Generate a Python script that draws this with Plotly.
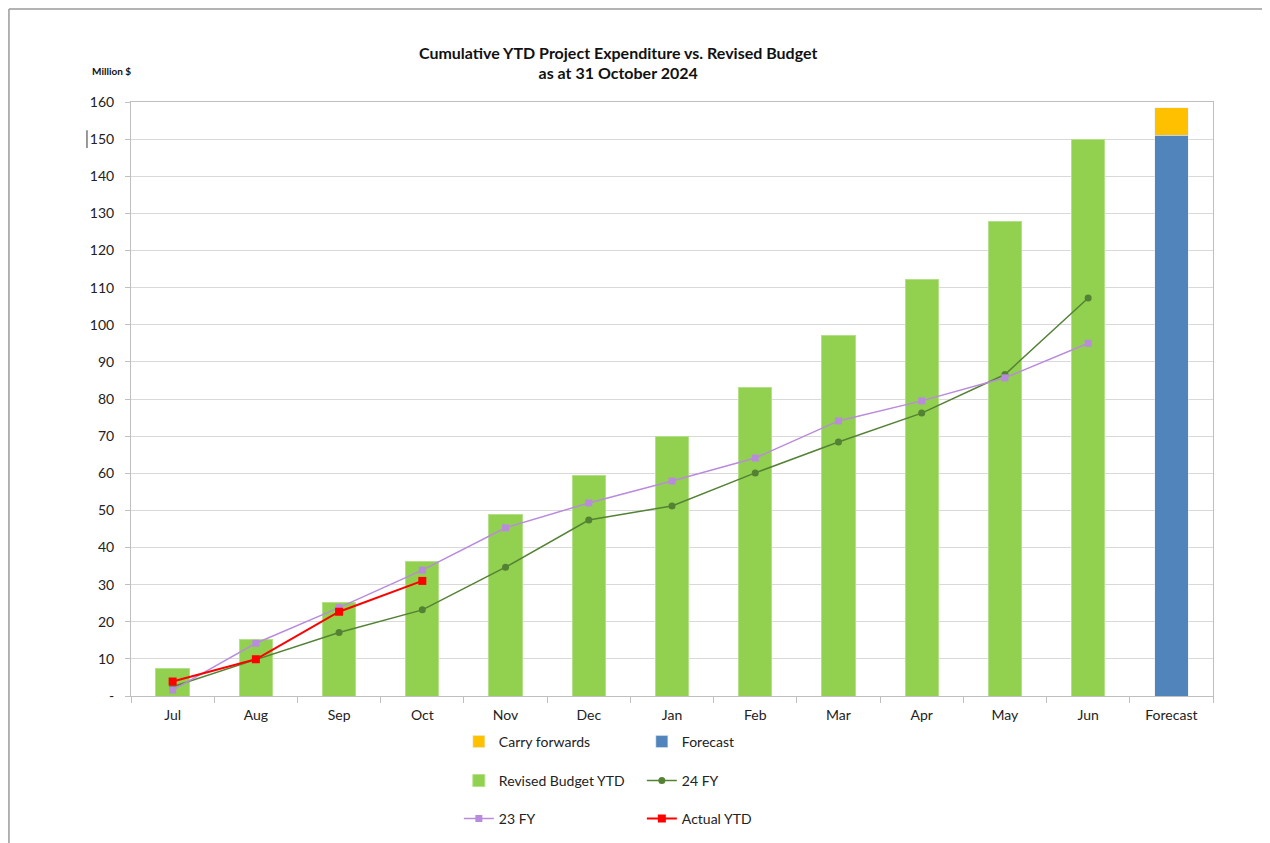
import plotly.graph_objects as go

months = ["Jul", "Aug", "Sep", "Oct", "Nov", "Dec", "Jan", "Feb", "Mar", "Apr", "May", "Jun"]
forecast_cat = ["Forecast"]
budget_ytd = [7.3, 15.1, 25.3, 36.1, 48.8, 59.3, 70.0, 83.2, 97.0, 112.1, 127.7, 150.0]
forecast_val = [151.1]
carry_val = [7.3]
fy24 = [2.5, 9.9, 17.1, 23.2, 34.7, 47.4, 51.2, 60.1, 68.4, 76.2, 86.6, 107.2]
fy23 = [1.6, 14.2, 23.8, 33.9, 45.3, 52.0, 57.9, 64.1, 74.1, 79.5, 85.7, 95.0]
actual_months = ["Jul", "Aug", "Sep", "Oct"]
actual_ytd = [3.9, 9.9, 22.7, 31.0]
y_ticks = list(range(0, 161, 10))
y_ticklabels = ["-"] + [str(v) for v in y_ticks[1:]]

FONT = "Lato, Open Sans, sans-serif"

fig = go.Figure()
fig.add_trace(go.Bar(x=forecast_cat, y=forecast_val, name="Forecast", marker_color="#5084BB",
                     width=0.4, legend="legend"))
fig.add_trace(go.Bar(x=forecast_cat, y=carry_val, name="Carry forwards", marker_color="#FFC000",
                     width=0.4, legend="legend"))
fig.add_trace(go.Bar(x=months, y=budget_ytd, name="Revised Budget YTD", marker_color="#92D050",
                     marker_line=dict(color="#B5E08A", width=1), width=0.4, legend="legend2"))
fig.add_trace(go.Scatter(x=months, y=fy24, name="24 FY", mode="lines+markers",
                         line=dict(color="#548235", width=1.5),
                         marker=dict(symbol="circle", size=7, color="#548235"), legend="legend2"))
fig.add_trace(go.Scatter(x=months, y=fy23, name="23 FY", mode="lines+markers",
                         line=dict(color="#B98BDC", width=1.5),
                         marker=dict(symbol="square", size=7, color="#B98BDC"), legend="legend3"))
fig.add_trace(go.Scatter(x=actual_months, y=actual_ytd, name="Actual YTD", mode="lines+markers",
                         line=dict(color="#FF0000", width=2),
                         marker=dict(symbol="square", size=8, color="#FF0000"), legend="legend3"))

leg_common = dict(orientation="h", xanchor="left", yanchor="middle", x=0.303,
                  entrywidth=138, entrywidthmode="pixels",
                  font=dict(family=FONT, size=14, color="#222"), bgcolor="rgba(0,0,0,0)",
                  itemwidth=30)

fig.update_layout(
    width=1262, height=835,
    margin=dict(l=123, r=57, t=94, b=147, autoexpand=False),
    paper_bgcolor="white", plot_bgcolor="white",
    barmode="stack",
    font=dict(family=FONT, size=14, color="#222"),
    title=dict(text="<b>Cumulative YTD Project Expenditure vs. Revised Budget<br>as at 31 October 2024</b>",
               x=0.4835, xanchor="center", y=0.9394, yanchor="middle",
               font=dict(family=FONT, size=16, color="#111")),
    legend=dict(leg_common, y=-0.0774, traceorder="reversed"),
    legend2=dict(leg_common, y=-0.143, traceorder="normal"),
    legend3=dict(leg_common, y=-0.207, traceorder="normal"),
    xaxis=dict(categoryorder="array", categoryarray=months + forecast_cat,
               range=[-0.5, 12.5],
               showline=True, linecolor="#BFBFBF", mirror=True, linewidth=1,
               ticks="outside", tickson="boundaries", ticklen=6, tickcolor="#BFBFBF",
               ticklabelstandoff=6,
               showgrid=False, tickfont=dict(size=14)),
    yaxis=dict(range=[0, 160], tickvals=y_ticks, ticktext=y_ticklabels,
               showline=True, linecolor="#BFBFBF", mirror=True, linewidth=1,
               ticks="outside", ticklen=5, tickcolor="#BFBFBF", ticklabelstandoff=8,
               showgrid=True, gridcolor="#D9D9D9", gridwidth=1, zeroline=False,
               tickfont=dict(size=14)),
    annotations=[dict(text="<b>Million $</b>", xref="paper", yref="paper", x=-0.0379, y=1.052,
                      xanchor="left", yanchor="middle", showarrow=False,
                      font=dict(family=FONT, size=10, color="#111"))],
    shapes=[
        dict(type="line", xref="paper", yref="paper", x0=-0.1128, x1=1.06, y0=1.1566, y1=1.1566,
             line=dict(color="#9A9A9A", width=1.5)),
        dict(type="line", xref="paper", yref="paper", x0=-0.1128, x1=-0.1128, y0=1.1566, y1=-0.26,
             line=dict(color="#9A9A9A", width=1.5)),
        dict(type="line", xref="paper", yref="paper", x0=-0.0407, x1=-0.0407, y0=0.9525, y1=0.9225,
             line=dict(color="#777", width=1.5)),
    ],
)

fig.write_html("out.html")
